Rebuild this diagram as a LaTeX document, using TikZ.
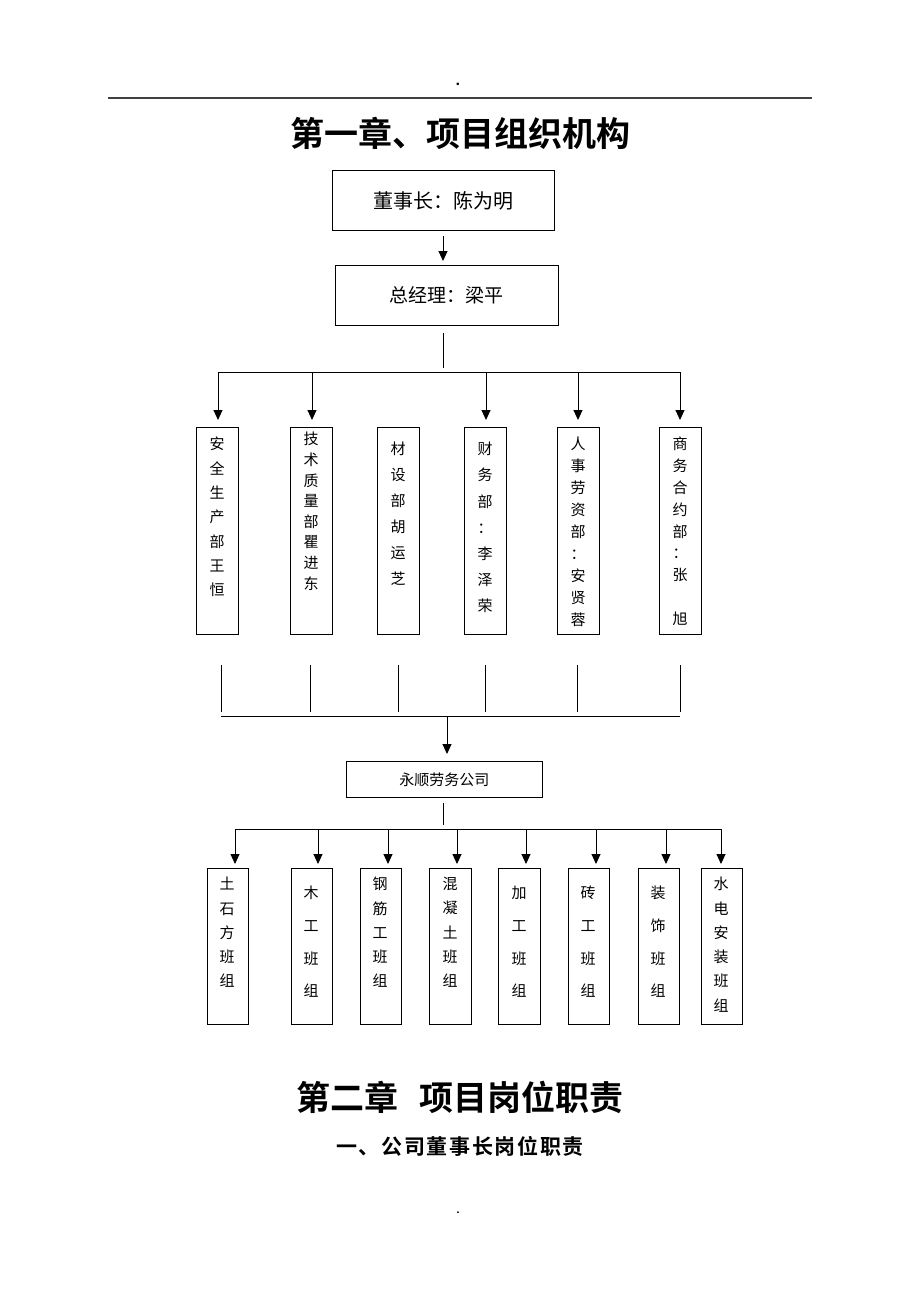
\documentclass[tikz,border=0pt]{standalone}
\usepackage{fontspec}
\setmainfont{Noto Sans CJK SC}
\newfontfamily\cjk{Noto Sans CJK SC}
\newfontfamily\cjkb{Noto Sans CJK SC Bold}
\newfontfamily\cjkls[LetterSpace=8]{Noto Sans CJK SC Bold}
\usetikzlibrary{arrows.meta}
\tikzset{
  box/.style={draw,line width=0.9pt,inner sep=0pt,anchor=north west},
  vtxt/.style={anchor=north,inner sep=0pt,align=center,font=\cjk\fontsize{15}{#1}\selectfont},
  conn/.style={line width=0.9pt},
  arr/.style={line width=0.9pt,-{Triangle[length=10pt,width=9pt]}},
}
\newcommand{\bx}[5]{\node[box,minimum width=#3pt,minimum height=#4pt] (#5) at (#1,#2) {};}
\begin{document}
\begin{tikzpicture}[x=1pt,y={(0,-1pt)}]
\useasboundingbox (0,0) rectangle (920,1302);
% header
\node[inner sep=0pt] (dot1) at (458,84) {\fontsize{20}{20}\selectfont .};
\draw[line width=1.5pt,black!75] (108,98) coordinate (r1) -- (812,98) coordinate (r2);
\node[inner sep=0pt,font=\cjkb\fontsize{34}{34}\selectfont] (t1) at (460,133) {第一章、项目组织机构};
% top boxes
\bx{332}{170}{222}{60}{ceo}
\node[font=\cjk\fontsize{20}{20}\selectfont] at (ceo.center) {董事长：陈为明};
\bx{335}{265}{223}{60}{gm}
\node[font=\cjk\fontsize{19}{19}\selectfont] at (gm.center) {总经理：梁平};
\draw[arr] (443,236) coordinate (a1) -- (443,261) coordinate (a2);
\draw[conn] (443,333) coordinate (g1) -- (443,368) coordinate (g2);
\draw[conn] (218,372) coordinate (h1) -- (680,372) coordinate (h2);
% departments
\bx{196}{427}{42}{207}{d1}
\bx{290}{427}{42}{207}{d2}
\bx{377}{427}{42}{207}{d3}
\bx{464}{427}{42}{207}{d4}
\bx{557}{427}{42}{207}{d5}
\bx{659}{427}{42}{207}{d6}
\foreach \x/\n in {218/d1,312/d2,486/d4,578/d5,680/d6}
  \draw[arr] (\x,372) -- ([yshift=7pt]\n.north -| \x,0);
\node[vtxt=24.3] at (217,437) {安\\全\\生\\产\\部\\王\\恒};
\node[vtxt=20.6] at (311,432) {技\\术\\质\\量\\部\\瞿\\进\\东};
\node[vtxt=26] at (398,442) {材\\设\\部\\胡\\运\\芝};
\node[vtxt=26.2] at (485,442) {财\\务\\部\\：\\李\\泽\\荣};
\node[vtxt=22] at (578,437) {人\\事\\劳\\资\\部\\：\\安\\贤\\蓉};
\node[vtxt=21.8] at (680,437) {商\\务\\合\\约\\部\\：\\张\\\\旭};
% connectors up
\foreach \x in {221,310,398,485,577,680}
  \draw[conn] (\x,665) -- (\x,712);
\draw[conn] (221,716) coordinate (m1) -- (680,716) coordinate (m2);
\bx{346}{761}{196}{36}{lab}
\node[font=\cjk\fontsize{15}{15}\selectfont] at (lab.center) {永顺劳务公司};
\draw[arr] (447,716) -- (447,754);
\draw[conn] (443,803) coordinate (l1) -- (443,825) coordinate (l2);
\draw[conn] (235,829) coordinate (k1) -- (722,829) coordinate (k2);
% teams
\bx{207}{868}{41}{156}{e1}
\bx{291}{868}{41}{156}{e2}
\bx{360}{868}{41}{156}{e3}
\bx{429}{868}{42}{156}{e4}
\bx{498}{868}{42}{156}{e5}
\bx{568}{868}{41}{156}{e6}
\bx{638}{868}{41}{156}{e7}
\bx{701}{868}{41}{156}{e8}
\foreach \x/\n in {235/e1,318/e2,388/e3,457/e4,526/e5,596/e6,666/e7,721/e8}
  \draw[arr] (\x,829) -- (\x,864);
\node[vtxt=24.3] at (227,877) {土\\石\\方\\班\\组};
\node[vtxt=32.7] at (311,886) {木\\工\\班\\组};
\node[vtxt=24.3] at (380,877) {钢\\筋\\工\\班\\组};
\node[vtxt=24.3] at (450,877) {混\\凝\\土\\班\\组};
\node[vtxt=32.7] at (519,886) {加\\工\\班\\组};
\node[vtxt=32.7] at (588,886) {砖\\工\\班\\组};
\node[vtxt=32.7] at (658,886) {装\\饰\\班\\组};
\node[vtxt=24.3] at (721,877) {水\\电\\安\\装\\班\\组};
% chapter 2
\node[inner sep=0pt,font=\cjkb\fontsize{34}{34}\selectfont] (t2) at (460,1097) {第二章\hspace{0.6em}项目岗位职责};
\node[inner sep=0pt,font=\cjkls\fontsize{21}{21}\selectfont] (t3) at (460,1146) {一、公司董事长岗位职责};
\node[inner sep=0pt] (dot2) at (458,1213) {\fontsize{14}{14}\selectfont .};
\end{tikzpicture}
\end{document}
